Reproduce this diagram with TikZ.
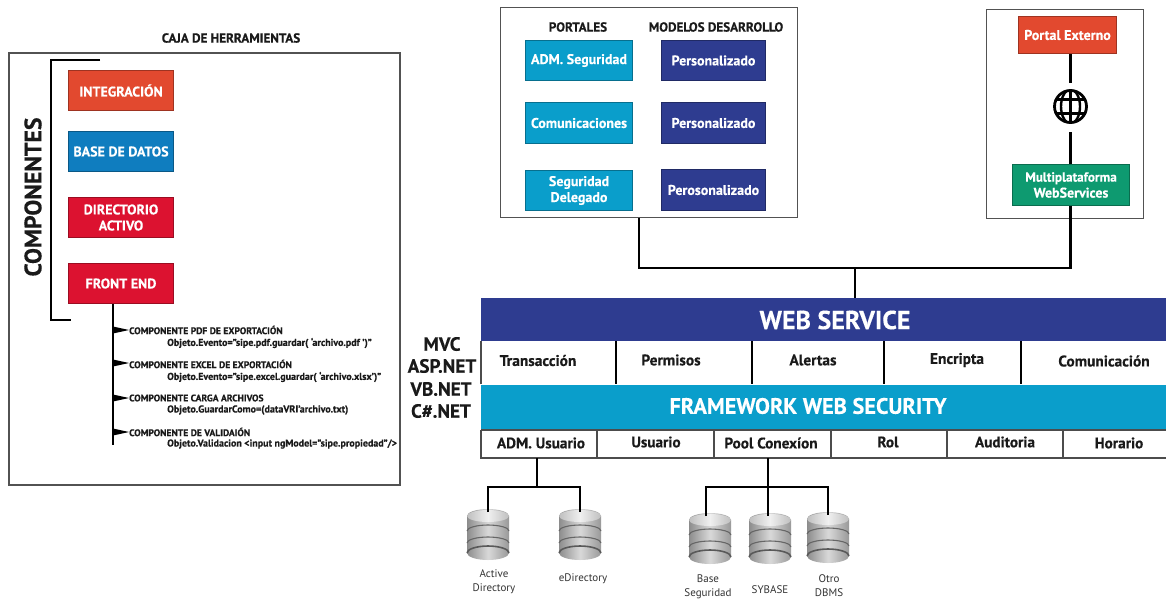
\documentclass[tikz,border=0pt]{standalone}
\usepackage{fontspec}
\setmainfont{PT Sans}[BoldFeatures={FakeBold=0.3}]
\usetikzlibrary{arrows.meta}
\definecolor{cOrange}{HTML}{E2492F}
\definecolor{cBlue}{HTML}{0F7DBF}
\definecolor{cRed}{HTML}{DC1230}
\definecolor{cNavy}{HTML}{2E3C90}
\definecolor{cCyan}{HTML}{0A9ECB}
\definecolor{cGreen}{HTML}{0E9A70}
\definecolor{cInk}{HTML}{1A1A1A}
\tikzset{
  x=1pt,y=-1pt,
  frame/.style={draw=black!68,line width=1.3pt,fill=white},
  tbox/.style={line width=1pt,text=white,font=\bfseries\fontsize{14}{16}\selectfont,align=center,inner sep=0pt},
  ink/.style={text=cInk,font=\bfseries,inner sep=0pt},
  conn/.style={draw=black,line width=2.2pt},
  cellline/.style={draw=black!70,line width=1.1pt},
  cellhead/.style={ink,font=\bfseries\fontsize{15.4}{17}\selectfont},
  cellsub/.style={ink,font=\bfseries\fontsize{15.2}{17}\selectfont},
  small/.style={ink,anchor=west,font=\bfseries\fontsize{9.6}{11}\selectfont},
  smallb/.style={ink,anchor=west,font=\bfseries\fontsize{10}{11}\selectfont},
  dblabel/.style={text=black!80,inner sep=0pt,align=center,font=\fontsize{11}{14}\selectfont},
  tech/.style={ink,font=\bfseries\fontsize{19.2}{22}\selectfont},
  wedge/.style={fill=black},
  heading/.style={ink,font=\bfseries\fontsize{13.1}{15}\selectfont},
}
\newcommand{\boxat}[7]{% name, x1,y1,x2,y2, color, text
  \node[tbox,draw=#6!70!black,fill=#6,minimum width=#4pt-#2pt,minimum height=#5pt-#3pt,anchor=north west] (#1) at (#2,#3) {#7};}
\newcommand{\dbicon}[3]{% name, cx, top y
  \begin{scope}[shift={(#2,#3)}]
    \shade[left color=black!45,right color=black!40,middle color=black!15] (-21,6) arc[x radius=21,y radius=7,start angle=180,end angle=360] -- (21,43) arc[x radius=21,y radius=7,start angle=0,end angle=180] -- cycle;
    \shade[left color=black!25,right color=black!25,middle color=black!6] (21,6) arc[x radius=21,y radius=6,start angle=0,end angle=360] -- cycle;
    \draw[black!60,line width=1.1pt] (-21,21) arc[x radius=21,y radius=6,start angle=180,end angle=360];
    \draw[black!60,line width=1.1pt] (-21,33) arc[x radius=21,y radius=6,start angle=180,end angle=360];
    \draw[black!65,line width=1.6pt] (-21,43) arc[x radius=21,y radius=7,start angle=180,end angle=360];
    \coordinate (#1) at (0,2);
  \end{scope}}
\begin{document}
\begin{tikzpicture}
\useasboundingbox (0,0) rectangle (1166,600);
\fill[white] (0,0) rectangle (1166,600);

% ---- Left panel
\node[heading] (title) at (231,38) {CAJA DE HERRAMIENTAS};
\draw[frame] (9,53) rectangle (400,485);
\draw[conn,line width=1.8pt] (100,60) -- (51,60) -- (51,320) -- (71,320);
\node[ink,rotate=90,font=\bfseries\fontsize{23.8}{26}\selectfont] (comp) at (33,197) {COMPONENTES};
\boxat{integ}{68}{70}{173}{110}{cOrange}{INTEGRACIÓN}
\boxat{based}{68}{131}{173}{171}{cBlue}{BASE DE DATOS}
\boxat{dira}{68}{197}{173}{237}{cRed}{DIRECTORIO\\ACTIVO}
\boxat{front}{68}{263}{173}{303}{cRed}{FRONT END}
\coordinate (trunk) at (113,445);
\draw[conn,line width=1.8pt] (front.south -| trunk) -- (trunk);
\foreach \yy in {330,363,398,432}{\fill[wedge] (113,\yy-3.5) -- (129,\yy) -- (113,\yy+3.5) -- cycle;}
\node[small] (c1) at (129,330) {COMPONENTE PDF DE EXPORTACIÓN};
\node[smallb] (c1b) at (167,343) {Objeto.Evento=”sipe.pdf.guardar( ‘archivo.pdf ’)”};
\node[small] (c2) at (129,364) {COMPONENTE EXCEL DE EXPORTACIÓN};
\node[smallb] (c2b) at (167,377) {Objeto.Evento=”sipe.excel.guardar( ‘archivo.xlsx’)”};
\node[small] (c3) at (129,398) {COMPONENTE CARGA ARCHIVOS};
\node[smallb] (c3b) at (167,410) {Objeto.GuardarComo=(dataVRI’archivo.txt)};
\node[small] (c4) at (129,432) {COMPONENTE DE VALIDAIÓN};
\node[smallb] (c4b) at (167,444) {Objeto.Validacion <input ngModel=”sipe.propiedad”/>};

% ---- Portals panel
\node[frame,minimum width=297pt,minimum height=210pt,anchor=north west,inner sep=0pt] (portals) at (500,7) {};
\node[heading] (hp) at (578,27) {PORTALES};
\node[heading] (hm) at (716,27) {MODELOS DESARROLLO};
\boxat{p1}{525}{40}{632}{80}{cCyan}{ADM. Seguridad}
\boxat{p2}{525}{102}{632}{143}{cCyan}{Comunicaciones}
\boxat{p3}{525}{170}{632}{210}{cCyan}{Seguridad\\Delegado}
\boxat{m1}{661}{40}{765}{80}{cNavy}{Personalizado}
\boxat{m2}{661}{102}{765}{143}{cNavy}{Personalizado}
\boxat{m3}{661}{169}{765}{210}{cNavy}{Perosonalizado}

% ---- External panel
\node[frame,minimum width=157pt,minimum height=209pt,anchor=north west,inner sep=0pt] (ext) at (986,9) {};
\boxat{pext}{1018}{16}{1116}{53}{cOrange}{Portal Externo}
\boxat{multi}{1012}{164}{1129}{205}{cGreen}{\fontsize{13.2}{16}\selectfont Multiplataforma\\WebServices}
\node[circle,draw=black,line width=2.8pt,fill=white,minimum size=32pt,inner sep=0pt] (globe) at (1070.5,106.5) {};
\begin{scope}
  \clip (globe.center) circle[radius=17];
  \draw[black,line width=2.4pt] (1053,99.5) -- (1088,99.5) (1053,113.5) -- (1088,113.5) (1070.5,89) -- (1070.5,124);
  \draw[black,line width=2.4pt] (1070.5,106.5) ellipse[x radius=9.5,y radius=17];
\end{scope}
\draw[conn] (pext.south -| globe) -- ([yshift=6pt]globe.north);
\draw[conn] ([yshift=-8.5pt]globe.south) -- (multi.north -| globe);

% ---- Central stack
\node[fill=cNavy,minimum width=685pt,minimum height=43pt,anchor=north west,inner sep=0pt] (ws) at (481,298) {};
\node[text=white,font=\bfseries\fontsize{26}{28}\selectfont,inner sep=0pt] (wst) at (835,320) {WEB SERVICE};
\draw[cellline] (481,341) -- (481,384);
\foreach \xx in {616,752,884,1021}{\draw[conn,line width=1.5pt] (\xx,341) -- (\xx,384);}
\node[cellhead] (t1) at (538,360.5) {Transacción};
\node[cellhead] (t2) at (671,360) {Permisos};
\node[cellhead] (t3) at (813,360) {Alertas};
\node[cellhead] (t4) at (957,360) {Encripta};
\node[cellhead] (t5) at (1104,361) {Comunicación};
\node[fill=cCyan,minimum width=685pt,minimum height=45pt,anchor=north west,inner sep=0pt] (fw) at (481,385) {};
\node[text=white,font=\bfseries\fontsize{22.3}{24}\selectfont,inner sep=0pt] (fwt) at (808,406) {FRAMEWORK WEB SECURITY};
\draw[cellline] (481,430) -- (481,458) -- (1166,458);
\draw[cellline] (481,430) -- (1166,430);
\foreach \xx in {597,714,831,947,1063}{\draw[cellline] (\xx,430) -- (\xx,458);}
\node[cellsub] (b1) at (541,443) {ADM. Usuario};
\node[cellsub] (b2) at (656,442) {Usuario};
\node[cellsub] (b3) at (771,443) {Pool Conexíon};
\node[cellsub] (b4) at (888,442) {Rol};
\node[cellsub] (b5) at (1005,442) {Auditoria};
\node[cellsub] (b6) at (1119,443) {Horario};
\node[tech] (l1) at (442,344) {MVC};
\node[tech] (l2) at (442,366) {ASP.NET};
\node[tech] (l3) at (441,389) {VB.NET};
\node[tech] (l4) at (441,411) {C\#.NET};

% ---- Upper connectors
\coordinate (bus) at (855,268);
\draw[conn] (portals.south -| 639,0) -- (639,268) -- (bus);
\draw[conn] (multi.south -| globe) -- (globe |- bus) -- (bus);
\draw[conn] (bus) -- (bus |- ws.north);

% ---- Databases
\dbicon{d1}{488}{510}
\dbicon{d2}{580}{510}
\dbicon{d3}{710}{514}
\dbicon{d4}{770}{514}
\dbicon{d5}{828}{513}
\coordinate (h1) at (537,487);
\coordinate (h2) at (768,487);
\coordinate (h3) at (706,487);
\draw[conn] (537,458) -- (h1);
\draw[conn] (d1) -- (d1 |- h1) -- (d2 |- h1) -- (d2);
\draw[conn] (h2 |- 0,458) -- (h2 |- d4);
\draw[conn] (h3 |- d3) -- (h3) -- (d5 |- h2) -- (d5);
\node[dblabel] (a1) at (494,582) {Active\\Directory};
\node[dblabel] (a2) at (583,579) {eDirectory};
\node[dblabel] (a3) at (708,587) {Base\\Seguridad};
\node[dblabel] (a4) at (770,590) {SYBASE};
\node[dblabel] (a5) at (829,586) {Otro\\DBMS};
\end{tikzpicture}
\end{document}
